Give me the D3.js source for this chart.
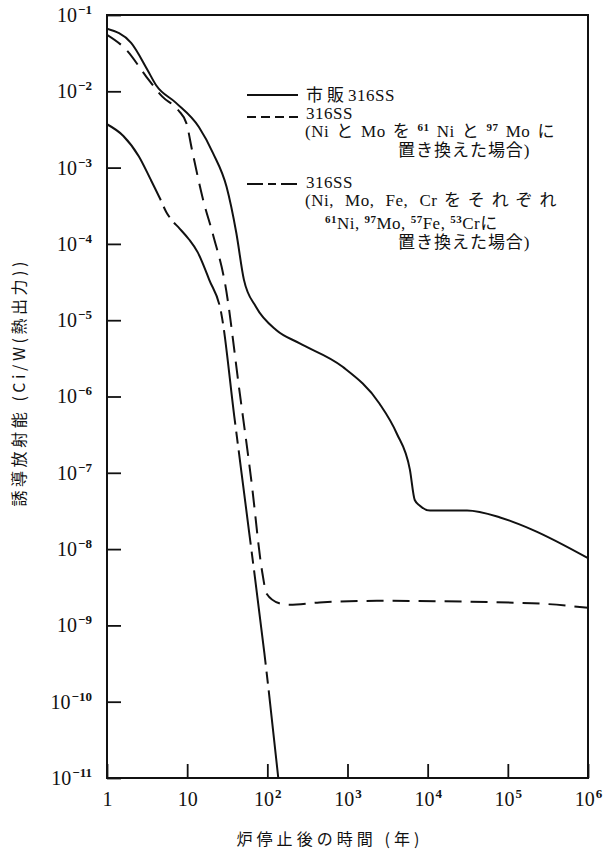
<!DOCTYPE html>
<html>
<head>
<meta charset="utf-8">
<script src="https://cdn.jsdelivr.net/npm/d3@7"></script>
<style>
  html, body { margin: 0; padding: 0; background: #fff; }
  svg { display: block; }
</style>
</head>
<body>
<svg id="chart" width="611" height="852"></svg>
<script>
/* Induced activity of 316 stainless steel vs. time after shutdown (log-log). */
(function () {
  'use strict';

  /* ---- DATA ------------------------------------------------------------- */
  // [years after shutdown, Ci/W(thermal)]
  var seriesCommercial = [
    [1, 6.6e-2], [2.0, 4.3e-2], [3.2, 1.9e-2], [4.1, 1.2e-2], [7.2, 7.1e-3],
    [14, 3.4e-3], [21, 1.55e-3], [31, 5.6e-4], [41, 1.4e-4], [51, 3.4e-5],
    [72, 1.5e-5], [130, 7.4e-6], [250, 5.0e-6], [870, 2.45e-6], [2500, 8.1e-7],
    [4100, 3.3e-7], [6000, 1.1e-7], [6900, 4.4e-8], [8000, 3.7e-8],
    [10700, 3.2e-8], [31000, 3.2e-8], [80000, 2.6e-8], [2.0e5, 1.8e-8],
    [1e6, 7.6e-9]
  ];
  var seriesNiMo = [
    [1, 5.5e-2], [1.74, 3.5e-2], [3.1, 1.55e-2], [4.9, 8.5e-3], [7.8, 5.6e-3],
    [9.8, 3.8e-3], [11.5, 1.7e-3], [15.8, 3.8e-4], [21.1, 1.3e-4],
    [29.9, 2.9e-5], [44.7, 1.23e-6], [63, 8.1e-8], [86.6, 4.9e-9],
    [98, 2.6e-9], [141, 1.95e-9], [190, 1.86e-9], [447, 2.0e-9],
    [2500, 2.1e-9], [2.0e5, 1.95e-9], [1e6, 1.7e-9]
  ];
  var seriesAll4 = [
    [1, 3.7e-3], [1.6, 2.6e-3], [2.5, 1.4e-3], [3.5, 7.0e-4], [4.6, 3.9e-4],
    [5.5, 2.6e-4], [6.3, 2.1e-4], [8.0, 1.6e-4], [10.5, 1.15e-4],
    [13.5, 7.8e-5], [18.8, 3.4e-5], [26.6, 1.24e-5], [38.7, 5.5e-7],
    [59.6, 1.6e-8], [91.7, 4.4e-10], [137, 1e-11]
  ];

  var xTickValues = [1, 10, 1e2, 1e3, 1e4, 1e5, 1e6];
  var xTickLabels = [['1', ''], ['10', ''], ['10', '2'], ['10', '3'],
                     ['10', '4'], ['10', '5'], ['10', '6']];
  var yTickValues = [1e-1, 1e-2, 1e-3, 1e-4, 1e-5, 1e-6, 1e-7, 1e-8, 1e-9, 1e-10, 1e-11];
  var yTickLabels = ['−1', '−2', '−3', '−4', '−5', '−6', '−7', '−8', '−9', '−10', '−11'];

  // ^{..} marks a superscript run
  var legendLines = [
    '市販316SS',
    '316SS',
    '(NiとMoを^{61}Niと^{97}Moに',
    '置き換えた場合)',
    '316SS',
    '(Ni, Mo, Fe, Crをそれぞれ',
    '^{61}Ni, ^{97}Mo, ^{57}Fe, ^{53}Crに',
    '置き換えた場合)'
  ];
  var xTitle = '炉停止後の時間 (年)';
  var yTitle = '誘導放射能 (Ci/W(熱出力))';

  /* ---- LAYOUT ------------------------------------------------------------ */
  var W = 611, H = 852;
  var P = { left: 107, right: 588, top: 15, bottom: 778 };
  var SERIF = "'Liberation Serif', 'Noto Sans CJK JP', serif";
  var SANS = "'Noto Sans CJK JP', 'Noto Sans', sans-serif";
  var INK = '#111';
  var curveDash = { commercial: null, niMo: '17,9', all4: '95,7,12,7' };
  var keyDash = { commercial: null, niMo: '9,5', all4: '16,5,8,5' };
  // per legend line: x, baseline y, target width (0 = natural)
  var legendPos = [
    [306, 101, 89], [306, 119, 0], [305, 137, 250], [398, 156, 132],
    [306, 188, 0], [305, 206, 252], [325, 229, 0], [398, 248, 132]
  ];
  var legendKeys = [[95, keyDash.commercial], [117, keyDash.niMo], [184, keyDash.all4]];

  var svg = d3.select('#chart');
  svg.append('rect').attr('width', W).attr('height', H).attr('fill', '#fff');

  var x = d3.scaleLog().domain([1, 1e6]).range([P.left, P.right]);
  var y = d3.scaleLog().domain([1e-11, 1e-1]).range([P.bottom, P.top]);

  /* ---- Axes -------------------------------------------------------------- */
  var yAxis = svg.append('g')
    .attr('transform', 'translate(' + P.left + ',0)')
    .call(d3.axisLeft(y).tickValues(yTickValues).tickSize(-14).tickPadding(15));
  var xAxis = svg.append('g')
    .attr('transform', 'translate(0,' + P.bottom + ')')
    .call(d3.axisBottom(x).tickValues(xTickValues).tickSize(-14).tickPadding(14));

  [yAxis, xAxis].forEach(function (g) {
    g.attr('font-size', 20).attr('font-family', SERIF);
    g.select('.domain').remove();
    g.selectAll('.tick line').attr('stroke', INK).attr('stroke-width', 1.8);
    g.selectAll('.tick text').attr('fill', INK).text(null);
  });

  function sup(t, s) {
    t.append('tspan').attr('font-size', 13).attr('font-weight', 'bold')
      .attr('dx', 1).attr('dy', -8).text(s);
  }
  yAxis.selectAll('.tick text').each(function (d, i) {
    var t = d3.select(this);
    t.append('tspan').text('10');
    sup(t, yTickLabels[i]);
  });
  xAxis.selectAll('.tick text').each(function (d, i) {
    var t = d3.select(this);
    t.append('tspan').text(xTickLabels[i][0]);
    if (xTickLabels[i][1]) sup(t, xTickLabels[i][1]);
  });

  // frame
  svg.append('rect')
    .attr('x', P.left).attr('y', P.top)
    .attr('width', P.right - P.left).attr('height', P.bottom - P.top)
    .attr('fill', 'none').attr('stroke', INK).attr('stroke-width', 2);

  /* ---- Curves ------------------------------------------------------------ */
  svg.append('clipPath').attr('id', 'plot-clip').append('rect')
    .attr('x', P.left).attr('y', P.top)
    .attr('width', P.right - P.left).attr('height', P.bottom - P.top);

  var line = d3.line()
    .x(function (d) { return x(d[0]); })
    .y(function (d) { return y(d[1]); })
    .curve(d3.curveMonotoneX);

  [[seriesCommercial, curveDash.commercial],
   [seriesNiMo, curveDash.niMo],
   [seriesAll4, curveDash.all4]
  ].forEach(function (s) {
    svg.append('path')
      .attr('clip-path', 'url(#plot-clip)')
      .attr('d', line(s[0]))
      .attr('fill', 'none').attr('stroke', INK).attr('stroke-width', 2)
      .attr('stroke-dasharray', s[1]);
  });

  /* ---- Legend ------------------------------------------------------------ */
  legendKeys.forEach(function (k) {
    svg.append('line')
      .attr('x1', 247).attr('x2', 298).attr('y1', k[0]).attr('y2', k[0])
      .attr('stroke', INK).attr('stroke-width', 2)
      .attr('stroke-dasharray', k[1]);
  });

  // split a line into tokens: superscript runs, single CJK chars, Latin words
  function tokenize(str) {
    var out = [];
    str.split(/(\^\{[^}]*\})/).forEach(function (p) {
      if (!p) return;
      if (p.charAt(0) === '^') { out.push({ s: p.slice(2, -1), sup: true }); return; }
      (p.match(/[\u3000-\u9fff\uff00-\uffef]|[^\u3000-\u9fff\uff00-\uffef ]+ ?/g) || [])
        .forEach(function (w) { out.push({ s: w, sup: false }); });
    });
    return out;
  }

  legendLines.forEach(function (str, i) {
    var pos = legendPos[i];
    var t = svg.append('text')
      .attr('x', pos[0]).attr('y', pos[1])
      .attr('font-family', SERIF).attr('font-size', 17).attr('fill', INK)
      .attr('letter-spacing', 0.5);
    var toks = tokenize(str);
    var raised = false;
    var spans = toks.map(function (tk) {
      var sp = t.append('tspan').text(tk.s);
      if (tk.sup) {
        sp.attr('font-size', 11).attr('font-weight', 'bold').attr('dy', raised ? 0 : -6);
        raised = true;
      } else {
        sp.attr('dy', raised ? 6 : 0);
        raised = false;
      }
      return sp;
    });
    // spread the tokens to the printed line width
    var natural = t.node().getComputedTextLength();
    if (pos[2] && pos[2] > natural && spans.length > 1) {
      var gap = (pos[2] - natural) / (spans.length - 1);
      spans.forEach(function (sp, j) { if (j) sp.attr('dx', gap); });
    }
  });

  /* ---- Axis titles ------------------------------------------------------- */
  svg.append('text')
    .attr('x', 328).attr('y', 845).attr('text-anchor', 'middle')
    .attr('font-family', SANS).attr('font-size', 16).attr('fill', INK)
    .attr('textLength', 183).attr('lengthAdjust', 'spacing')
    .text(xTitle);

  svg.append('text')
    .attr('transform', 'translate(25,384) rotate(-90)')
    .attr('text-anchor', 'middle')
    .attr('font-family', SANS).attr('font-size', 16).attr('fill', INK)
    .attr('textLength', 245).attr('lengthAdjust', 'spacing')
    .text(yTitle);
})();
</script>
</body>
</html>
